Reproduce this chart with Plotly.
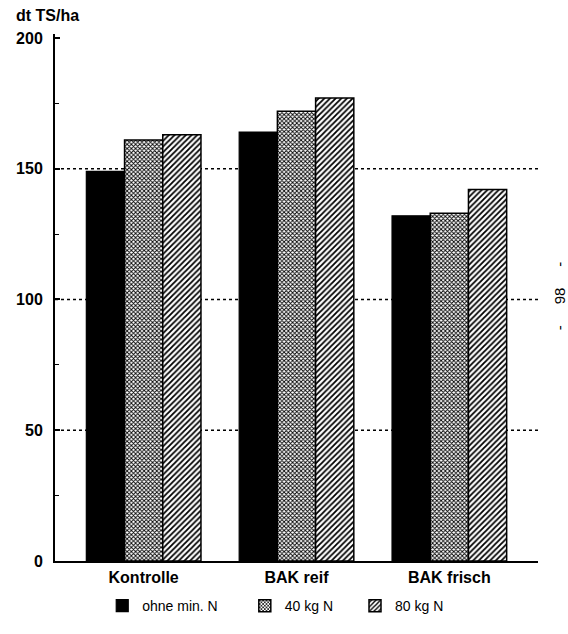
import plotly.graph_objects as go

categories = ["Kontrolle", "BAK reif", "BAK frisch"]
series_names = ["ohne min. N", "40 kg N", "80 kg N"]
ohne_min_n = [149, 164, 132]
kg40_n = [161, 172, 133]
kg80_n = [163, 177, 142]
y_ticks = [0, 50, 100, 150, 200]
grid_values = [50, 100, 150]

FONT = "Liberation Sans, Arial, sans-serif"

fig = go.Figure()
fig.add_trace(go.Bar(
    x=categories, y=ohne_min_n, name=series_names[0], legend="legend",
    marker=dict(color="black", line=dict(color="black", width=1.2)),
))
fig.add_trace(go.Bar(
    x=categories, y=kg40_n, name=series_names[1], legend="legend2",
    marker=dict(color="white", line=dict(color="black", width=1.5),
                pattern=dict(shape="x", size=3, solidity=0.5,
                             fgcolor="black", bgcolor="white", fillmode="replace")),
))
fig.add_trace(go.Bar(
    x=categories, y=kg80_n, name=series_names[2], legend="legend3",
    marker=dict(color="white", line=dict(color="black", width=1.5),
                pattern=dict(shape="/", size=4, solidity=0.45,
                             fgcolor="black", bgcolor="white", fillmode="replace")),
))

legend_common = dict(orientation="h", xref="container", yref="container",
                     y=0.044, yanchor="middle", xanchor="left",
                     font=dict(size=14, family=FONT, color="black"), bgcolor="rgba(0,0,0,0)",
                     borderwidth=0)

shapes = [dict(type="line", xref="paper", x0=0, x1=1, yref="y", y0=g, y1=g,
               line=dict(color="black", width=1.5, dash="dot"), layer="below")
          for g in grid_values]

fig.update_layout(
    width=568, height=634,
    margin=dict(l=55, r=30, t=34, b=73, autoexpand=False),
    paper_bgcolor="white", plot_bgcolor="white",
    barmode="group", bargap=0.25, bargroupgap=0,
    font=dict(family=FONT, color="black", size=15),
    showlegend=True,
    legend=dict(legend_common, x=0.180),
    legend2=dict(legend_common, x=0.431),
    legend3=dict(legend_common, x=0.625),
    xaxis=dict(range=[-0.58, 2.58], showline=True, linecolor="black", linewidth=1.5,
               ticks="", showgrid=False, zeroline=False, ticklabelstandoff=1,
               automargin=False,
               tickfont=dict(size=16, family=FONT, weight="bold", color="black")),
    yaxis=dict(range=[0, 201.5], tickvals=y_ticks, showline=True, linecolor="black",
               linewidth=2, ticks="inside", ticklen=5, tickwidth=1.5, tickcolor="black",
               minor=dict(dtick=25, ticks="inside", ticklen=4, tickcolor="black", tickwidth=1, showgrid=False),
               showgrid=False, zeroline=False, ticklabelstandoff=7, automargin=False,
               tickfont=dict(size=16, family=FONT, weight="bold", color="black")),
    shapes=shapes,
    annotations=[
        dict(text="dt TS/ha", xref="paper", yref="paper", x=-0.085, y=1.036,
             xanchor="left", yanchor="middle", showarrow=False,
             font=dict(size=16, family=FONT, weight="bold", color="black")),
        dict(text="-     98     -", xref="paper", yref="paper", x=1.045, y=0.502,
             xanchor="center", yanchor="middle", showarrow=False, textangle=-90,
             font=dict(size=15, family=FONT, color="black")),
    ],
)

fig.write_html("out.html")
